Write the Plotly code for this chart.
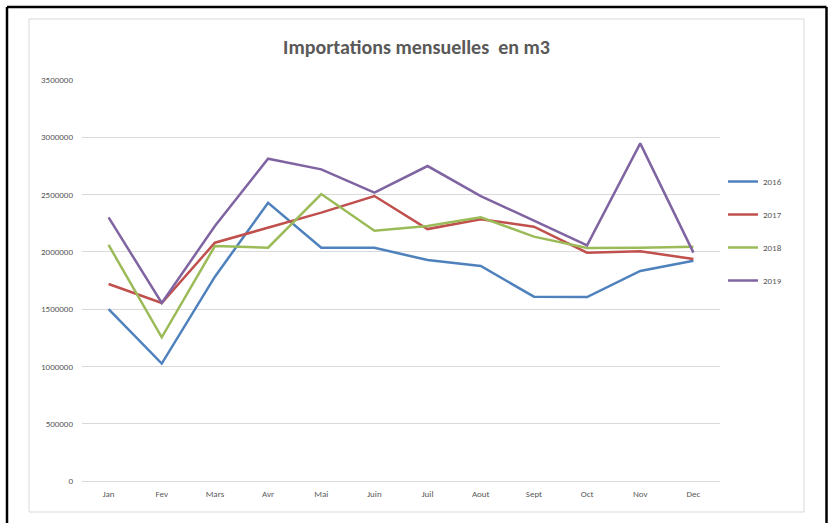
import plotly.graph_objects as go

months = ["Jan", "Fev", "Mars", "Avr", "Mai", "Juin", "Juil", "Aout", "Sept", "Oct", "Nov", "Dec"]
y2016 = [1500000, 1025000, 1783000, 2429000, 2036000, 2035000, 1929000, 1877000, 1609000, 1605000, 1833000, 1923000]
y2017 = [1719000, 1554000, 2080000, 2214000, 2342000, 2487000, 2199000, 2284000, 2220000, 1993000, 2005000, 1938000]
y2018 = [2060000, 1254000, 2051000, 2036000, 2505000, 2185000, 2226000, 2302000, 2133000, 2034000, 2036000, 2045000]
y2019 = [2301000, 1554000, 2226000, 2813000, 2720000, 2516000, 2749000, 2487000, 2272000, 2057000, 2947000, 1993000]
series = [("2016", y2016, "#4F81BD"), ("2017", y2017, "#C0504D"),
          ("2018", y2018, "#9BBB59"), ("2019", y2019, "#8064A2")]
yticks = [0, 500000, 1000000, 1500000, 2000000, 2500000, 3000000, 3500000]

FONT = "Carlito, Calibri, 'Liberation Sans Narrow', 'Open Sans', sans-serif"

fig = go.Figure()
for name, vals, col in series:
    fig.add_trace(go.Scatter(x=months, y=vals, mode="lines", name=name,
                             legendgroup=name,
                             line=dict(color=col, width=2.5)))

W, H = 828, 523
L, R, T, B = 82, 720, 80, 481
pw, ph = R - L, B - T

def px(x):
    return (x - L) / pw

def py(y):
    return (B - y) / ph

fig.update_layout(
    width=W, height=H,
    margin=dict(l=L, r=W - R, t=T, b=H - B),
    paper_bgcolor="white", plot_bgcolor="white",
    font=dict(family=FONT, color="#595959", size=9),
    title=dict(text="<b>Importations mensuelles  en m3</b>",
               x=416.5 / W, xanchor="center", y=1 - 47 / H, yanchor="middle",
               font=dict(family=FONT, size=20, color="#595959")),
    showlegend=True,
    legend=dict(x=px(723), xanchor="left", y=py(167), yanchor="top",
                font=dict(family=FONT, size=9, color="#595959"),
                tracegroupgap=14, itemwidth=30, bgcolor="rgba(0,0,0,0)"),
    xaxis=dict(type="category", range=[-0.5, 11.5], showgrid=False,
               showline=False, zeroline=False, ticks="",
               tickfont=dict(size=9, color="#595959"), ticklabelstandoff=6),
    yaxis=dict(range=[0, 3500000], tickvals=yticks,
               ticktext=[str(v) for v in yticks],
               showgrid=True, gridcolor="#d9d9d9", gridwidth=1,
               zeroline=True, zerolinecolor="#d9d9d9", zerolinewidth=1,
               showline=False, ticks="", ticklabelstandoff=8,
               tickfont=dict(size=9, color="#595959")),
    shapes=[
        dict(type="rect", xref="paper", yref="paper",
             x0=px(29), x1=px(804), y0=py(512), y1=py(19),
             line=dict(color="#d9d9d9", width=1), layer="below"),
        dict(type="line", xref="paper", yref="paper",
             x0=px(7), x1=px(7), y0=py(530), y1=py(7),
             line=dict(color="black", width=2.5)),
        dict(type="line", xref="paper", yref="paper",
             x0=px(7), x1=px(826.5), y0=py(7), y1=py(7),
             line=dict(color="black", width=2.5)),
        dict(type="line", xref="paper", yref="paper",
             x0=px(826.5), x1=px(826.5), y0=py(7), y1=py(530),
             line=dict(color="black", width=2.5)),
    ],
)

fig.write_html("out.html",
               config={"displayModeBar": False},
               post_script="document.body.style.margin='0';document.body.style.overflow='hidden';")
